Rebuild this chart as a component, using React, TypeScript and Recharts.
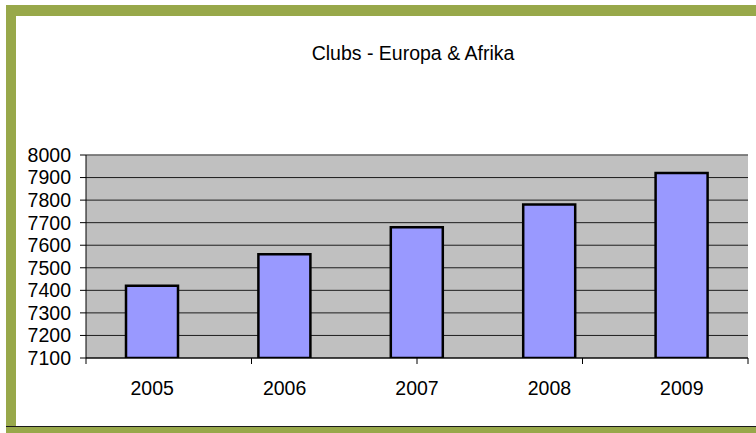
import { BarChart, Bar, XAxis, YAxis, CartesianGrid, ReferenceLine } from "recharts";

const years = ["2005", "2006", "2007", "2008", "2009"];
const clubs = [7420, 7560, 7680, 7780, 7920];
const yTicks = [7100, 7200, 7300, 7400, 7500, 7600, 7700, 7800, 7900, 8000];
const slotTicks = [0, 1, 2, 3, 4, 5];

const data = years.map((year, i) => ({ year, clubs: clubs[i] }));

const FONT = "'Liberation Sans', Arial, Helvetica, sans-serif";
const GREEN = "#98a84a";

export default function App() {
  return (
    <div
      style={{
        position: "absolute",
        left: 0,
        top: 0,
        width: 756,
        height: 433,
        background: "#fff",
        fontFamily: FONT,
        overflow: "hidden",
      }}
    >
      {/* frame */}
      <div style={{ position: "absolute", left: 6, top: 5, width: 750, height: 11, background: GREEN }} />
      <div style={{ position: "absolute", left: 6, top: 5, width: 10, height: 428, background: GREEN }} />
      <div style={{ position: "absolute", left: 6, top: 426, width: 750, height: 1, background: "#1a1a1a" }} />
      <div style={{ position: "absolute", left: 6, top: 427, width: 750, height: 6, background: GREEN }} />

      <BarChart
        width={756}
        height={433}
        data={data}
        margin={{ top: 155, right: 8, bottom: 30, left: 0 }}
        style={{ position: "absolute", left: 0, top: 0 }}
      >
        <text x={413} y={60} textAnchor="middle" fontSize={19.5} fontFamily={FONT} fill="#000">
          Clubs - Europa &amp; Afrika
        </text>
        <CartesianGrid fill="#c0c0c0" vertical={false} stroke="#000" strokeOpacity={0.85} />
        {/* axis 0: category boundaries (ticks between bars), sits on the plot */}
        <XAxis
          xAxisId={0}
          type="number"
          domain={[0, 5]}
          ticks={slotTicks}
          height={8}
          tickSize={6}
          tickFormatter={() => ""}
          stroke="#000"
          axisLine={{ stroke: "#000" }}
          tickLine={{ stroke: "#000" }}
        />
        {/* axis 1: year labels */}
        <XAxis
          xAxisId={1}
          dataKey="year"
          height={37}
          tickSize={0}
          tickMargin={15}
          axisLine={false}
          tickLine={false}
          tick={{ fontSize: 19.5, fill: "#000", fontFamily: FONT }}
        />
        <YAxis
          domain={[7100, 8000]}
          ticks={yTicks}
          width={86}
          tickSize={6}
          tickMargin={9}
          interval={0}
          allowDataOverflow
          axisLine={{ stroke: "#000" }}
          tickLine={{ stroke: "#000" }}
          tick={{ fontSize: 19.5, fill: "#000", fontFamily: FONT }}
        />
        <ReferenceLine y={8000} stroke="#808080" strokeWidth={1.5} />
        <ReferenceLine x={5} stroke="#808080" strokeWidth={1.5} />
        <Bar
          xAxisId={1}
          dataKey="clubs"
          fill="#9999ff"
          stroke="#000"
          strokeWidth={2.5}
          barSize={52}
          isAnimationActive={false}
        />
      </BarChart>
    </div>
  );
}
